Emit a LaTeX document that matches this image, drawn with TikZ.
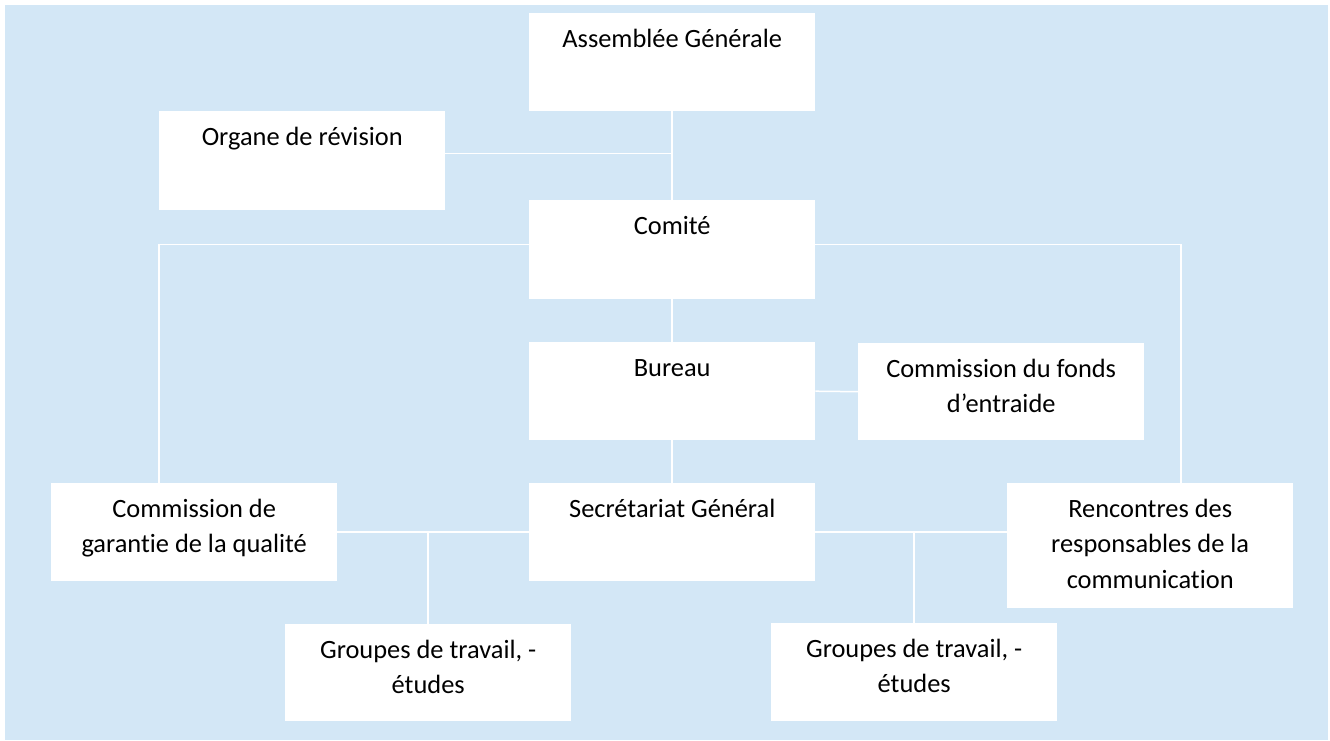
\documentclass[tikz,border=0pt]{standalone}
\usepackage{fontspec}
\setmainfont{Carlito}[Ligatures=NoCommon]
\usepackage{tikz}
\usetikzlibrary{positioning}
\definecolor{chartbg}{HTML}{D3E7F6}
\tikzset{orgbox/.style={fill=white, inner sep=0pt, anchor=north west},
    link/.style={draw=white, line width=1.5pt}}
\newcommand{\boxtext}[2][98]{\parbox[t][#1pt][t]{286pt}{\centering\rule{0pt}{34pt}#2}}

\begin{document}
\begin{tikzpicture}[x=1pt, y=-1pt, font=\fontsize{26.4}{35.5}\selectfont]
    \useasboundingbox (0,0) rectangle (1330,740);
    \fill[chartbg] (5,5) rectangle (1328,740);

    \node[orgbox] (ag) at (529,13) {\boxtext{Assemblée Générale}};
    \node[orgbox] (organe) at (159,111) {\boxtext[99]{Organe de révision}};
    \node[orgbox] (comite) at (529,200) {\boxtext[99]{Comité}};
    \node[orgbox] (bureau) at (529,342) {\boxtext{Bureau}};
    \node[orgbox] (fonds) at (858,343) {\boxtext[97]{Commission du fonds\\d’entraide}};
    \node[orgbox] (garantie) at (51,483) {\boxtext{Commission de\\garantie de la qualité}};
    \node[orgbox] (sg) at (529,483) {\boxtext{Secrétariat Général}};
    \node[orgbox] (rencontres) at (1007,483) {\boxtext[125]{Rencontres des\\responsables de la\\communication}};
    \node[orgbox] (groupesl) at (285,624) {\boxtext[97]{Groupes de travail, -\\études}};
    \node[orgbox] (groupesr) at (771,623) {\boxtext[98]{Groupes de travail, -\\études}};

    \draw[link] (ag.south) -- (comite.north);
    \draw[link] ([yshift=7pt]organe.east) -- ([yshift=7pt]organe.east -| ag.south);
    \draw[link] ([yshift=5pt]comite.west) -| ([xshift=-35pt]garantie.north);
    \draw[link] ([yshift=5pt]comite.east) -| ([xshift=31pt]rencontres.north);
    \draw[link] (comite.south) -- (bureau.north);
    \draw[link] (bureau.east) -- (fonds.west);
    \draw[link] (bureau.south) -- (sg.north);
    \draw[link] (sg.west) -- (garantie.east);
    \draw[link] (groupesl.north) -- (groupesl.north |- sg.west);
    \draw[link] (sg.east) -- (sg.east -| rencontres.west);
    \draw[link] (groupesr.north) -- (groupesr.north |- sg.east);
\end{tikzpicture}
\end{document}
